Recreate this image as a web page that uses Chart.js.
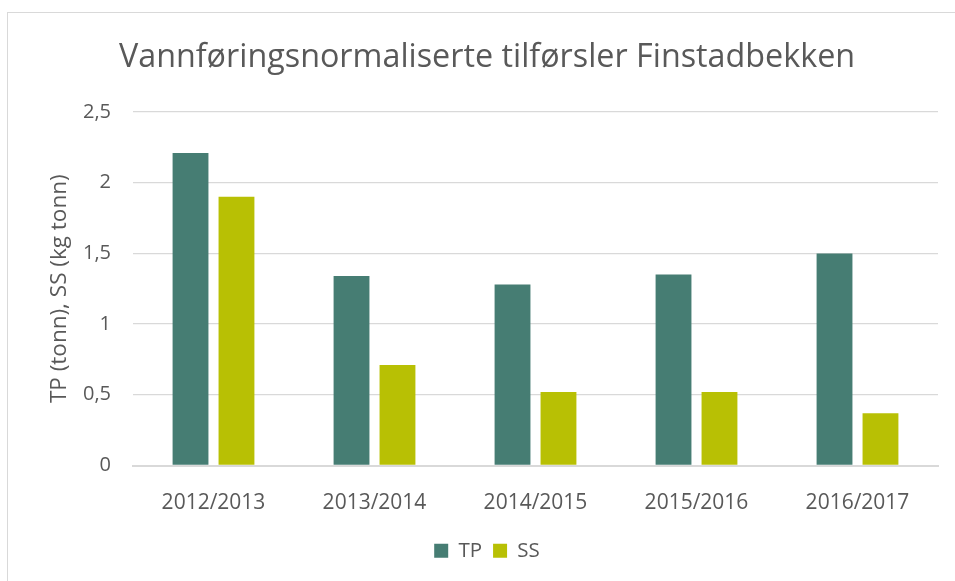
<!DOCTYPE html>
<html>
<head>
<meta charset="utf-8">
<script src="https://cdn.jsdelivr.net/npm/chart.js@4/dist/chart.umd.min.js"></script>
<style>
  html, body { margin: 0; padding: 0; background: #fff; overflow: hidden; }
  .frame { position: absolute; left: 7px; top: 12px; width: 1000px; height: 700px; border: 1.5px solid #d9d9d9; }
  .wrap { position: absolute; left: 0; top: 0; width: 955px; height: 581px; }
</style>
</head>
<body>
<div class="frame"></div>
<div class="wrap"><canvas id="chart"></canvas></div>
<script>
const categories = ['2012/2013', '2013/2014', '2014/2015', '2015/2016', '2016/2017'];
const tpValues = [2.21, 1.34, 1.28, 1.35, 1.50];
const ssValues = [1.90, 0.71, 0.52, 0.52, 0.37];
const yTicks = [0, 0.5, 1, 1.5, 2, 2.5];

const textColor = '#595959';
const fontFamily = '"Open Sans", "Liberation Sans", sans-serif';

new Chart(document.getElementById('chart').getContext('2d'), {
    type: 'bar',
    data: {
        labels: categories,
        datasets: [
            { label: 'TP', data: tpValues, backgroundColor: '#467d73' },
            { label: 'SS', data: ssValues, backgroundColor: '#b8c004' }
        ]
    },
    options: {
        responsive: true,
        maintainAspectRatio: false,
        animation: false,
        categoryPercentage: 0.571,
        barPercentage: 0.78,
        layout: { padding: { left: 36, right: 17, top: 0, bottom: 10 } },
        plugins: {
            title: {
                display: true,
                text: 'Vannføringsnormaliserte tilførsler Finstadbekken',
                color: textColor,
                font: { family: fontFamily, size: 32.3, weight: 'normal' },
                padding: { top: 38, bottom: 35.2 }
            },
            legend: {
                position: 'bottom',
                labels: {
                    color: textColor,
                    font: { family: fontFamily, size: 20.5 },
                    boxWidth: 14,
                    boxHeight: 14,
                    padding: 11
                }
            },
            tooltip: { enabled: false }
        },
        scales: {
            x: {
                grid: { display: false },
                border: { color: '#d9d9d9', width: 2 },
                ticks: {
                    color: textColor,
                    font: { family: fontFamily, size: 21 },
                    padding: 17
                },
                afterFit: function (scale) { scale.height = 64; }
            },
            y: {
                min: 0,
                max: 2.5,
                afterBuildTicks: function (scale) {
                    scale.ticks = yTicks.map(v => ({ value: v }));
                },
                grid: { color: '#d9d9d9', lineWidth: 1.3, drawTicks: false },
                border: { display: false },
                ticks: {
                    color: textColor,
                    font: { family: fontFamily, size: 20 },
                    padding: 22,
                    callback: v => String(v).replace('.', ',')
                },
                title: {
                    display: true,
                    text: 'TP (tonn), SS (kg tonn)',
                    color: textColor,
                    font: { family: fontFamily, size: 22.5 },
                    padding: { top: 10, bottom: 0 }
                },
                afterFit: function (scale) { scale.width = 97; }
            }
        }
    }
});
</script>
</body>
</html>
